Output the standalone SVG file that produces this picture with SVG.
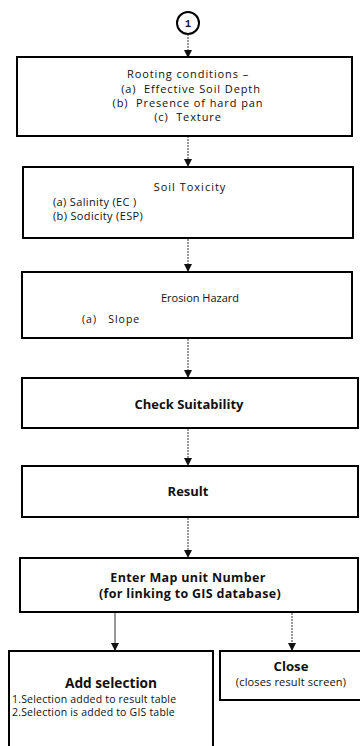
<svg xmlns="http://www.w3.org/2000/svg" width="360" height="746" viewBox="0 0 360 746">
<defs>
<marker id="ah" viewBox="0 0 8 8" refX="7" refY="4" markerWidth="8" markerHeight="8" markerUnits="userSpaceOnUse" orient="auto">
<path d="M0,0 L8,4 L0,8 z" fill="#111"/>
</marker>
<style>
.box{fill:#fff;stroke:#000;stroke-width:2}
.con{fill:none;stroke:#333;stroke-width:1;stroke-dasharray:2 1;marker-end:url(#ah)}
.solid{stroke-dasharray:none}
text{font-family:"Open Sans","Liberation Sans",Arial,sans-serif;fill:#111;white-space:pre}
.t{font-size:11px;letter-spacing:0.9px}
.c{text-anchor:middle}
.b{font-weight:bold;font-size:13px}
.s{font-size:10.5px;letter-spacing:0.2px}
</style>
</defs>
<rect width="360" height="746" fill="#fff"/>
<g id="start">
<circle cx="188" cy="23" r="11" fill="#fff" stroke="#000" stroke-width="2"/>
<text x="188" y="27" class="c" style="font-family:'Liberation Mono',monospace;font-size:10px;font-weight:bold">1</text>
</g>
<g id="connectors">
<line class="con" x1="188" y1="34" x2="188" y2="57"/>
<line class="con" x1="188" y1="124" x2="188" y2="166"/>
<line class="con" x1="188" y1="239" x2="188" y2="271"/>
<line class="con" x1="188" y1="339" x2="188" y2="377"/>
<line class="con" x1="188" y1="429" x2="188" y2="465"/>
<line class="con" x1="188" y1="518" x2="188" y2="557"/>
<line class="con solid" x1="115" y1="613" x2="115" y2="650"/>
<line class="con" x1="292" y1="613" x2="292" y2="650"/>
</g>
<g id="rooting">
<rect class="box" x="17" y="57" width="335" height="79"/>
<text class="t c" x="188" y="78">Rooting conditions –</text>
<text class="t c" x="191" y="93">(a)  Effective Soil Depth</text>
<text class="t c" x="188" y="107">(b)  Presence of hard pan</text>
<text class="t c" x="188" y="121">(c)  Texture</text>
</g>
<g id="toxicity">
<rect class="box" x="23" y="167" width="330" height="71"/>
<text class="c" x="190" y="191" style="font-size:11px;letter-spacing:1px">Soil Toxicity</text>
<text class="t" x="53" y="206" style="letter-spacing:0.35px">(a) Salinity (EC )</text>
<text class="t" x="53" y="220" style="letter-spacing:0.35px">(b) Sodicity (ESP)</text>
</g>
<g id="erosion">
<rect class="box" x="22" y="272" width="330" height="66"/>
<text class="c" x="200" y="302" style="font-size:11px">Erosion Hazard</text>
<text class="s" x="82" y="323" style="letter-spacing:1px">(a)   Slope</text>
</g>
<g id="check">
<rect class="box" x="22" y="378" width="336" height="50"/>
<text class="b c" x="189" y="409">Check Suitability</text>
</g>
<g id="result">
<rect class="box" x="22" y="466" width="336" height="51"/>
<text class="b c" x="188" y="496">Result</text>
</g>
<g id="mapunit">
<rect class="box" x="20" y="558" width="338" height="54"/>
<text class="b c" x="188" y="582" style="font-size:12.5px;letter-spacing:0.35px">Enter Map unit Number</text>
<text class="b c" x="190" y="598" style="font-size:12.5px;letter-spacing:0.3px">(for linking to GIS database)</text>
</g>
<g id="addsel">
<rect class="box" x="9" y="651" width="204" height="100"/>
<text class="c" x="111" y="688" style="font-weight:bold;font-size:13.7px">Add selection</text>
<text class="s" x="12" y="702.5">1.Selection added to result table</text>
<text class="s" x="12" y="716">2.Selection is added to GIS table</text>
</g>
<g id="close">
<rect class="box" x="220" y="651" width="145" height="49"/>
<text class="c" x="291" y="671" style="font-weight:bold;font-size:13.2px">Close</text>
<text class="c" x="291" y="686" style="font-size:11px;letter-spacing:0.15px">(closes result screen)</text>
</g>
</svg>
